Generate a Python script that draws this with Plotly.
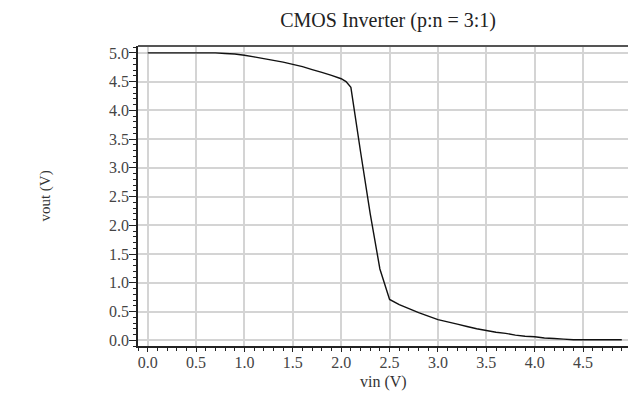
import plotly.graph_objects as go

# DC transfer sweep of the CMOS inverter (p:n = 3:1)
vin = [0.0, 0.1, 0.2, 0.3, 0.4, 0.5, 0.6, 0.7, 0.8, 0.9,
       1.0, 1.1, 1.2, 1.3, 1.4, 1.5, 1.6, 1.7, 1.8, 1.9,
       2.0, 2.05, 2.1, 2.2, 2.3, 2.4, 2.5, 2.6, 2.7, 2.8, 2.9,
       3.0, 3.1, 3.2, 3.3, 3.4, 3.5, 3.6, 3.7, 3.8, 3.9,
       4.0, 4.1, 4.2, 4.3, 4.4, 4.5, 4.6, 4.7, 4.8, 4.9]
vout = [5.0, 5.0, 5.0, 5.0, 5.0, 5.0, 5.0, 5.0, 4.99, 4.98,
        4.96, 4.93, 4.90, 4.87, 4.84, 4.80, 4.76, 4.71, 4.66, 4.61,
        4.55, 4.50, 4.40, 3.28, 2.20, 1.24, 0.71, 0.62, 0.55, 0.48, 0.42,
        0.36, 0.32, 0.28, 0.24, 0.20, 0.17, 0.14, 0.12, 0.09, 0.07,
        0.06, 0.04, 0.03, 0.02, 0.01, 0.01, 0.01, 0.01, 0.01, 0.01]

x_ticks = [0.0, 0.5, 1.0, 1.5, 2.0, 2.5, 3.0, 3.5, 4.0, 4.5]
y_ticks = [0.0, 0.5, 1.0, 1.5, 2.0, 2.5, 3.0, 3.5, 4.0, 4.5, 5.0]

SERIF = "Liberation Serif"
TICK_FONT = dict(family=SERIF, size=16, color="#444444")

fig = go.Figure()
fig.add_trace(go.Scatter(x=vin, y=vout, mode="lines",
                         line=dict(color="#111111", width=1.4, simplify=False),
                         showlegend=False, hoverinfo="skip"))

axis_common = dict(
    showgrid=True, gridcolor="#d4d4d4", gridwidth=1.5,
    zeroline=False, showline=True, linecolor="#222222", linewidth=1.5,
    ticks="outside", tickwidth=1.2, tickcolor="#222222",
    minor=dict(ticks="outside", ticklen=3, tickwidth=1, tickcolor="#222222",
               dtick=0.1, showgrid=False),
)

fig.update_xaxes(range=[-0.1, 4.964], tickvals=x_ticks, ticklen=4,
                 ticktext=[f"{v:.1f}" for v in x_ticks],
                 tickfont=TICK_FONT, ticklabelstandoff=-3, **axis_common)
fig.update_yaxes(range=[-0.1, 5.12], tickvals=y_ticks, ticklen=7,
                 ticktext=[f"{v:.1f}" for v in y_ticks],
                 tickfont=TICK_FONT, ticklabelstandoff=-3, **axis_common)

# dark frame line across the top of the plot area
fig.add_shape(type="line", xref="paper", yref="paper", x0=0, x1=1, y0=1, y1=1,
              line=dict(color="#555555", width=2))

fig.add_annotation(text="vout (V)", xref="paper", yref="paper",
                   x=-0.212, y=0.5, textangle=-90, showarrow=False,
                   font=dict(family=SERIF, size=15, color="#333333"))
fig.add_annotation(text="vin (V)", xref="paper", yref="paper",
                   x=0.5, y=-0.12, yanchor="middle", showarrow=False,
                   font=dict(family=SERIF, size=16, color="#333333"))

fig.update_layout(
    width=628, height=399,
    margin=dict(l=138, r=0, t=46, b=53),
    paper_bgcolor="white", plot_bgcolor="white",
    font=dict(family=SERIF, size=15, color="#444444"),
    title=dict(text="CMOS Inverter (p:n = 3:1)", x=0.618, xanchor="center",
               y=0.95, yanchor="middle",
               font=dict(family=SERIF, size=20, color="#222222")),
)

fig.write_html("out.html")
